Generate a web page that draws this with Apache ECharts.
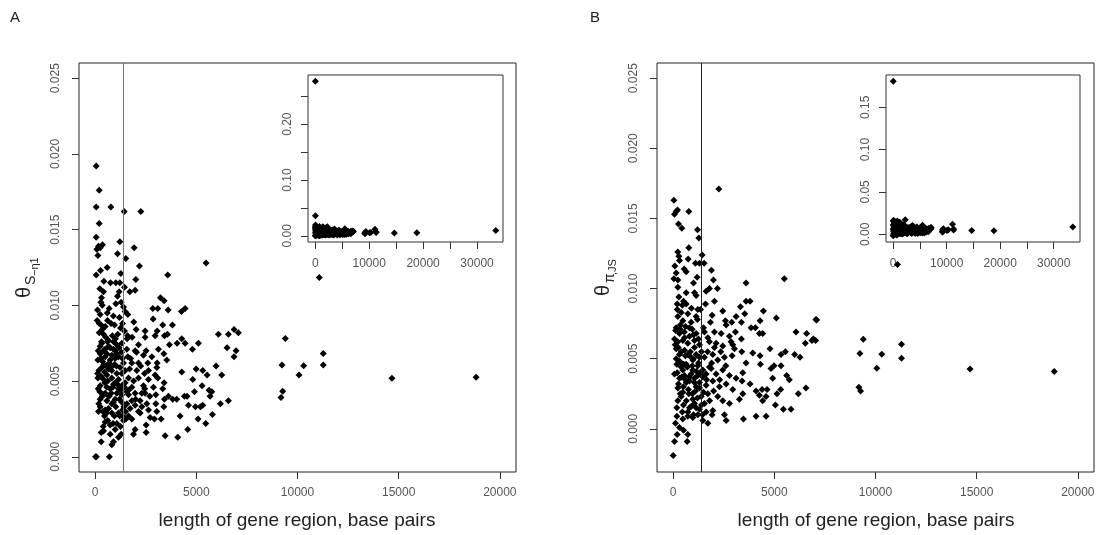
<!DOCTYPE html>
<html>
<head>
<meta charset="utf-8">
<script src="https://cdn.jsdelivr.net/npm/echarts@6/dist/echarts.min.js"></script>
<style>
html,body{margin:0;padding:0;background:#fff;}
#chart{width:1099px;height:535px;}
</style>
</head>
<body>
<div id="chart"></div>
<script>
// ---------- DATA (length of gene region in bp, theta) ----------
const aPoints = [
[49,0.0192],[198,0.0176],[49,0.0165],[775,0.0165],[1432,0.0162],[2255,0.0162],[198,0.0154],[49,0.0145],
[1218,0.0142],[165,0.0139],[362,0.0140],[82,0.0137],[247,0.0138],[132,0.0133],[1926,0.0138],[1103,0.0134],
[1514,0.0131],[5480,0.0128],[593,0.0125],[263,0.0123],[2189,0.0126],[49,0.0120],[1267,0.0121],[3588,0.0120],
[2008,0.0117],[428,0.0116],[757,0.0115],[1020,0.0115],[1218,0.0115],[1448,0.0112],[1975,0.0110],[1712,0.0109],
[230,0.0111],[411,0.0109],[1185,0.0109],[313,0.0105],[1103,0.0106],[3226,0.0105],[3407,0.0103],[280,0.0102],
[1284,0.0102],[1020,0.0101],[3094,0.0098],[2848,0.0098],[4444,0.0098],[4263,0.0096],[115,0.0097],[691,0.0098],
[1399,0.0099],[1481,0.0096],[3604,0.0097],[247,0.0094],[1613,0.0094],[2864,0.0091],[3340,0.0087],[3818,0.0087],
[1909,0.0089],[609,0.0090],[790,0.0088],[954,0.0087],[296,0.0087],[494,0.0086],[2024,0.0084],[2469,0.0083],
[3061,0.0083],[3571,0.0081],[6090,0.0081],[6584,0.0081],[6864,0.0084],[7078,0.0082],[1251,0.0085],[1448,0.0083],
[198,0.0082],[411,0.0081],[1119,0.0081],[1580,0.0078],[1827,0.0079],[2469,0.0079],[2963,0.0080],[3424,0.0080],
[4280,0.0078],[4049,0.0075],[4444,0.0075],[5103,0.0075],[3670,0.0074],[4806,0.0071],[6518,0.0072],[6962,0.0070],
[6864,0.0066],[313,0.0076],[609,0.0076],[905,0.0076],[1070,0.0074],[1317,0.0075],[2140,0.0074],[247,0.0073],
[494,0.0071],[741,0.0072],[988,0.0070],[1564,0.0071],[1975,0.0070],[2518,0.0070],[3127,0.0071],[3391,0.0068],
[247,0.0068],[576,0.0068],[823,0.0067],[1152,0.0066],[1350,0.0065],[1613,0.0066],[2041,0.0069],[2387,0.0067],
[2798,0.0066],[3539,0.0064],[3061,0.0062],[132,0.0064],[362,0.0063],[691,0.0062],[954,0.0061],[1234,0.0059],
[1811,0.0062],[2140,0.0062],[2601,0.0062],[3045,0.0059],[2634,0.0057],[4280,0.0056],[4988,0.0058],[5316,0.0057],
[5975,0.0060],[6255,0.0054],[5531,0.0054],[181,0.0057],[461,0.0056],[658,0.0058],[1070,0.0055],[1481,0.0057],
[2058,0.0057],[2436,0.0055],[2963,0.0054],[132,0.0052],[411,0.0051],[823,0.0052],[1152,0.0051],[1646,0.0052],
[2140,0.0052],[2634,0.0051],[3094,0.0052],[4823,0.0051],[3407,0.0049],[5284,0.0047],[247,0.0047],[576,0.0046],
[905,0.0048],[1317,0.0047],[1811,0.0046],[2387,0.0047],[2880,0.0046],[3340,0.0045],[5629,0.0044],[5761,0.0043],
[4905,0.0043],[230,0.0043],[494,0.0042],[790,0.0042],[1070,0.0042],[1564,0.0043],[1975,0.0042],[2469,0.0042],
[2996,0.0041],[3621,0.0040],[3835,0.0038],[3424,0.0038],[4033,0.0038],[4411,0.0040],[4543,0.0040],[247,0.0038],
[576,0.0037],[988,0.0038],[1317,0.0036],[1811,0.0037],[2222,0.0037],[2551,0.0035],[2996,0.0035],[3391,0.0033],
[4609,0.0034],[4955,0.0033],[5201,0.0033],[5316,0.0034],[5679,0.0040],[6189,0.0035],[6584,0.0037],[247,0.0033],
[658,0.0032],[1020,0.0033],[1350,0.0031],[1728,0.0032],[2140,0.0030],[2634,0.0031],[3045,0.0030],[4197,0.0027],
[5086,0.0025],[5465,0.0022],[5794,0.0028],[165,0.0030],[461,0.0027],[823,0.0029],[1218,0.0027],[1514,0.0025],
[1811,0.0025],[2222,0.0029],[2716,0.0026],[3259,0.0025],[494,0.0023],[741,0.0021],[1070,0.0022],[1399,0.0024],
[1975,0.0018],[2518,0.0021],[2930,0.0025],[296,0.0016],[411,0.0017],[741,0.0015],[988,0.0018],[1152,0.0013],
[1284,0.0015],[823,0.0008],[905,0.0010],[296,0.0010],[1893,0.0015],[2518,0.0016],[3457,0.0014],[4082,0.0013],
[4576,0.0018],[20,0.0000],[60,0.0000],[700,0.0000],
[329,0.0075],[411,0.0070],[658,0.0073],[905,0.0071],[1070,0.0068],[494,0.0066],[741,0.0064],[988,0.0065],
[329,0.0059],[823,0.0057],[1317,0.0055],[576,0.0054],[988,0.0049],[1481,0.0049],[741,0.0045],[1152,0.0045],
[1646,0.0041],[411,0.0041],[1317,0.0041],[823,0.0035],[1564,0.0035],[1975,0.0034],[494,0.0031],[1152,0.0029],
[1646,0.0027],[2304,0.0033],[2304,0.0042],
[100,0.0090],[200,0.0088],[350,0.0084],[520,0.0079],[650,0.0077],[850,0.0080],[1000,0.0078],[1180,0.0072],
[1300,0.0069],[150,0.0070],[280,0.0065],[430,0.0061],[560,0.0060],[780,0.0059],[1050,0.0060],[1400,0.0062],
[120,0.0055],[300,0.0053],[480,0.0049],[620,0.0050],[870,0.0046],[1100,0.0048],[1250,0.0044],[1450,0.0046],
[150,0.0045],[350,0.0040],[690,0.0040],[900,0.0036],[1200,0.0038],[1420,0.0033],[180,0.0035],[380,0.0030],
[560,0.0029],[950,0.0027],[1350,0.0027],[620,0.0024],[880,0.0022],[1250,0.0020],[400,0.0020],[1500,0.0030],
[1700,0.0058],[1900,0.0050],[1650,0.0044],[2000,0.0038],[1750,0.0065],[2250,0.0060],[2450,0.0045],[2700,0.0040],
[1600,0.0080],[1200,0.0092],[900,0.0093],[600,0.0095],[350,0.0100],[1350,0.0088],
[11077,0.01184],[9398,0.00782],[11274,0.00683],[9235,0.00606],[10306,0.00602],[11274,0.00606],[10074,0.0054],
[14667,0.00519],[18830,0.00525],[9268,0.00433],[9185,0.00391]
];
const aOutliers = [[30,0.277],[40,0.036],[33470,0.0093]];

const bPoints = [
[2254,0.0171],[33,0.0163],[148,0.0155],[66,0.0153],[214,0.0156],[773,0.0155],[263,0.0146],[428,0.0143],
[1201,0.0142],[1267,0.0136],[773,0.0129],[230,0.0126],[280,0.0123],[313,0.0120],[740,0.0121],[1431,0.0124],
[1102,0.0118],[1300,0.0118],[1530,0.0118],[82,0.0116],[543,0.0114],[642,0.0112],[1892,0.0113],[148,0.0111],
[33,0.0107],[230,0.0106],[1184,0.0108],[1003,0.0104],[1990,0.0106],[5494,0.0107],[3603,0.0104],[230,0.0101],
[642,0.0097],[1053,0.0097],[1135,0.0095],[1629,0.0098],[1793,0.0100],[2188,0.0100],[280,0.0094],[510,0.0091],
[197,0.0089],[642,0.0089],[1596,0.0089],[2040,0.0091],[3800,0.0091],[3603,0.0091],[1217,0.0085],[1349,0.0085],
[395,0.0083],[724,0.0082],[1135,0.0080],[2451,0.0084],[3323,0.0087],[3537,0.0082],[4458,0.0084],[5099,0.0079],
[7057,0.0078],[230,0.0080],[477,0.0077],[888,0.0076],[1925,0.0081],[1842,0.0076],[2583,0.0077],[2895,0.0076],
[3109,0.0080],[3372,0.0076],[3849,0.0072],[4063,0.0072],[4293,0.0077],[148,0.0072],[346,0.0071],[609,0.0073],
[938,0.0071],[1135,0.0068],[1546,0.0069],[1711,0.0065],[2040,0.0069],[2369,0.0068],[2616,0.0074],[2780,0.0066],
[3076,0.0069],[3372,0.0064],[4260,0.0068],[4425,0.0068],[6070,0.0069],[6596,0.0068],[6925,0.0064],[6859,0.0063],
[6530,0.0061],[66,0.0064],[230,0.0062],[477,0.0063],[724,0.0061],[1053,0.0063],[1300,0.0060],[1793,0.0062],
[2122,0.0061],[2451,0.0059],[2862,0.0062],[2944,0.0060],[3027,0.0057],[3389,0.0055],[3932,0.0054],[4293,0.0052],
[4786,0.0057],[5330,0.0053],[5544,0.0055],[6004,0.0053],[6267,0.0051],[148,0.0057],[313,0.0053],[559,0.0056],
[806,0.0052],[1135,0.0053],[1546,0.0051],[1957,0.0053],[2204,0.0049],[2533,0.0051],[2912,0.0052],[3603,0.0047],
[4310,0.0046],[4836,0.0043],[4984,0.0045],[5330,0.0045],[181,0.0046],[395,0.0044],[642,0.0046],[970,0.0042],
[1217,0.0045],[1464,0.0042],[1875,0.0043],[2122,0.0039],[2451,0.0042],[2780,0.0038],[3109,0.0036],[3438,0.0040],
[3405,0.0034],[3800,0.0032],[4918,0.0036],[5609,0.0038],[5741,0.0035],[6563,0.0029],[6185,0.0025],[66,0.0039],
[313,0.0036],[559,0.0038],[806,0.0034],[1053,0.0036],[1300,0.0033],[1629,0.0031],[1958,0.0034],[2287,0.0030],
[2616,0.0032],[2945,0.0028],[230,0.0029],[477,0.0026],[773,0.0025],[1102,0.0027],[1382,0.0023],[1711,0.0025],
[2204,0.0023],[2451,0.0020],[2780,0.0018],[3274,0.0021],[3438,0.0025],[4096,0.0027],[4260,0.0024],[4392,0.0028],
[4590,0.0023],[4425,0.0020],[4639,0.0028],[5132,0.0025],[5313,0.0028],[5050,0.0017],[5445,0.0014],[5823,0.0014],
[230,0.0020],[510,0.0017],[806,0.0015],[1053,0.0018],[1300,0.0014],[1629,0.0012],[1925,0.0010],[1958,0.0013],
[2533,0.0010],[2616,0.0006],[3471,0.0007],[4096,0.0009],[4590,0.0009],[181,0.0009],[477,0.0007],[724,0.0009],
[970,0.0008],[1217,0.0010],[1464,0.0006],[1711,0.0004],[115,0.0004],[313,0.0001],[510,-0.0001],[197,-0.0004],
[724,-0.0004],[66,-0.0009],[691,-0.0009],[0,-0.0019],
[313,0.0068],[559,0.0065],[806,0.0066],[1053,0.0058],[724,0.0053],[1300,0.0051],[970,0.0049],[477,0.0042],
[888,0.0039],[1217,0.0038],[642,0.0033],[1464,0.0037],[1135,0.0030],[1629,0.0039],[395,0.0023],[970,0.0021],
[1546,0.0018],[724,0.0012],[1135,0.0015],[1793,0.0044],[2040,0.0058],
[100,0.0060],[250,0.0058],[400,0.0055],[600,0.0052],[850,0.0055],[1000,0.0050],[1250,0.0047],[1400,0.0055],
[150,0.0050],[330,0.0048],[520,0.0046],[700,0.0044],[950,0.0045],[1150,0.0041],[1350,0.0040],[200,0.0040],
[420,0.0037],[600,0.0035],[800,0.0037],[1050,0.0033],[1300,0.0029],[1500,0.0026],[260,0.0032],[500,0.0030],
[750,0.0028],[950,0.0025],[1200,0.0022],[350,0.0025],[650,0.0020],[900,0.0016],[1400,0.0017],[180,0.0015],
[450,0.0012],[1000,0.0010],[120,0.0070],[350,0.0074],[550,0.0069],[800,0.0072],[1000,0.0067],[1250,0.0064],
[200,0.0085],[450,0.0088],[900,0.0086],[1200,0.0078],[1500,0.0072],[1700,0.0055],[1900,0.0047],[1650,0.0035],
[2000,0.0027],[1800,0.0020],[2300,0.0035],[2600,0.0045],[2350,0.0055],[1450,0.0010],
[7090,0.00776],[7040,0.0063],[9394,0.00638],[9227,0.00536],[10312,0.00531],[11284,0.00603],[11284,0.00503],
[10066,0.00432],[14674,0.00427],[18834,0.00408],[9178,0.00296],[9262,0.0027],[11087,0.01172]
];
const bOutliers = [[20,0.1808],[33580,0.0086]];

const aCutoff = 1400;
const bCutoff = 1385;

const mainXTicks = [0, 5000, 10000, 15000, 20000];
const mainYTicks = [0, 0.005, 0.010, 0.015, 0.020, 0.025];
const insetXTicks = [0, 5000, 10000, 15000, 20000, 25000, 30000];
const insetXLabels = [0, 10000, 20000, 30000];
const aInsetYTicks = [0, 0.05, 0.10, 0.15, 0.20, 0.25];
const aInsetYLabels = [0, 0.10, 0.20];
const bInsetYTicks = [0, 0.05, 0.10, 0.15];
const bInsetYLabels = [0, 0.05, 0.10, 0.15];

const xTitle = 'length of gene region, base pairs';

// ---------- CHART ----------
const FONT = '"Liberation Sans", Arial, Helvetica, sans-serif';
const LABEL_COLOR = '#555';

function xAxisCfg(gridIndex, min, max, ticks, labels, margin) {
  return {
    type: 'value', gridIndex: gridIndex, min: min, max: max, position: 'bottom',
    splitLine: {show: false},
    axisLine: {show: false, onZero: false},
    axisTick: {show: true, inside: false, length: 7, customValues: ticks,
               lineStyle: {color: '#333', width: 1}},
    axisLabel: {show: true, customValues: labels, margin: margin,
                color: LABEL_COLOR, fontSize: 12, fontFamily: FONT,
                formatter: function (v) { return String(Math.round(v)); }}
  };
}
function yAxisCfg(gridIndex, min, max, ticks, labels, digits, margin) {
  return {
    type: 'value', gridIndex: gridIndex, min: min, max: max, position: 'left',
    splitLine: {show: false},
    axisLine: {show: false, onZero: false},
    axisTick: {show: true, inside: false, length: 7, customValues: ticks,
               lineStyle: {color: '#333', width: 1}},
    axisLabel: {show: true, customValues: labels, margin: margin, rotate: 90,
                color: LABEL_COLOR, fontSize: 12, fontFamily: FONT,
                formatter: function (v) { return Math.abs(v) < 1e-12 ? (0).toFixed(digits) : v.toFixed(digits); }}
  };
}

const symbolStyle = {symbol: 'diamond', symbolSize: 7, itemStyle: {color: '#000', opacity: 1}};

const option = {
  animation: false,
  backgroundColor: '#fff',
  grid: [
    {left: 79, top: 63, width: 437, height: 409, show: true, borderColor: '#222', borderWidth: 1, backgroundColor: 'transparent', containLabel: false, outerBoundsMode: 'none'},
    {left: 657, top: 63, width: 437, height: 409, show: true, borderColor: '#222', borderWidth: 1, backgroundColor: 'transparent', containLabel: false, outerBoundsMode: 'none'},
    {left: 308, top: 75, width: 195, height: 167, show: true, borderColor: '#333', borderWidth: 1, backgroundColor: '#fff', containLabel: false, outerBoundsMode: 'none'},
    {left: 886, top: 75, width: 194, height: 167, show: true, borderColor: '#333', borderWidth: 1, backgroundColor: '#fff', containLabel: false, outerBoundsMode: 'none'}
  ],
  xAxis: [
    xAxisCfg(0, -800, 20800, mainXTicks, mainXTicks, 15),
    xAxisCfg(1, -800, 20800, mainXTicks, mainXTicks, 15),
    xAxisCfg(2, -1340, 34810, insetXTicks, insetXLabels, 16),
    xAxisCfg(3, -1340, 34920, insetXTicks, insetXLabels, 16)
  ],
  yAxis: [
    yAxisCfg(0, -0.001, 0.026, mainYTicks, mainYTicks, 3, 17),
    yAxisCfg(1, -0.00308, 0.02608, mainYTicks, mainYTicks, 3, 17),
    yAxisCfg(2, -0.0111, 0.2881, aInsetYTicks, aInsetYLabels, 2, 14),
    yAxisCfg(3, -0.0092, 0.1881, bInsetYTicks, bInsetYLabels, 2, 14)
  ],
  series: [
    Object.assign({type: 'scatter', xAxisIndex: 0, yAxisIndex: 0, data: aPoints, clip: true,
      markLine: {silent: true, symbol: 'none', label: {show: false},
        lineStyle: {color: '#777', width: 1, type: 'solid'}, data: [{xAxis: aCutoff}]}}, symbolStyle),
    Object.assign({type: 'scatter', xAxisIndex: 1, yAxisIndex: 1, data: bPoints, clip: true,
      markLine: {silent: true, symbol: 'none', label: {show: false},
        lineStyle: {color: '#222', width: 1, type: 'solid'}, data: [{xAxis: bCutoff}]}}, symbolStyle),
    Object.assign({type: 'scatter', xAxisIndex: 2, yAxisIndex: 2, data: aPoints.concat(aOutliers), clip: true}, symbolStyle),
    Object.assign({type: 'scatter', xAxisIndex: 3, yAxisIndex: 3, data: bPoints.concat(bOutliers), clip: true}, symbolStyle)
  ],
  graphic: [
    {type: 'text', left: 10, top: 10, style: {text: 'A', font: '15px ' + FONT, fill: '#222'}},
    {type: 'text', left: 590, top: 10, style: {text: 'B', font: '15px ' + FONT, fill: '#222'}},
    {type: 'text', x: 297, y: 521, style: {text: xTitle, font: '19px ' + FONT, fill: '#222', align: 'center', verticalAlign: 'middle'}},
    {type: 'text', x: 876, y: 521, style: {text: xTitle, font: '19px ' + FONT, fill: '#222', align: 'center', verticalAlign: 'middle'}},
    {type: 'group', x: 24, y: 298, rotation: Math.PI / 2, children: [
      {type: 'text', x: 0, y: 0, style: {text: 'θ', font: '20px ' + FONT, fill: '#222', align: 'left', verticalAlign: 'middle'}},
      {type: 'text', x: 13, y: 7, style: {text: 'S', font: '14px ' + FONT, fill: '#222', align: 'left', verticalAlign: 'middle'}},
      {type: 'text', x: 22, y: 11, style: {text: '−η1', font: '11px ' + FONT, fill: '#222', align: 'left', verticalAlign: 'middle'}}
    ]},
    {type: 'group', x: 603, y: 296, rotation: Math.PI / 2, children: [
      {type: 'text', x: 0, y: 0, style: {text: 'θ', font: '20px ' + FONT, fill: '#222', align: 'left', verticalAlign: 'middle'}},
      {type: 'text', x: 13, y: 7, style: {text: 'π', font: '14px ' + FONT, fill: '#222', align: 'left', verticalAlign: 'middle'}},
      {type: 'text', x: 21, y: 10, style: {text: ',JS', font: '11px ' + FONT, fill: '#222', align: 'left', verticalAlign: 'middle'}}
    ]}
  ]
};

const chart = echarts.init(document.getElementById('chart'), null, {renderer: 'canvas'});
chart.setOption(option);
</script>
</body>
</html>
